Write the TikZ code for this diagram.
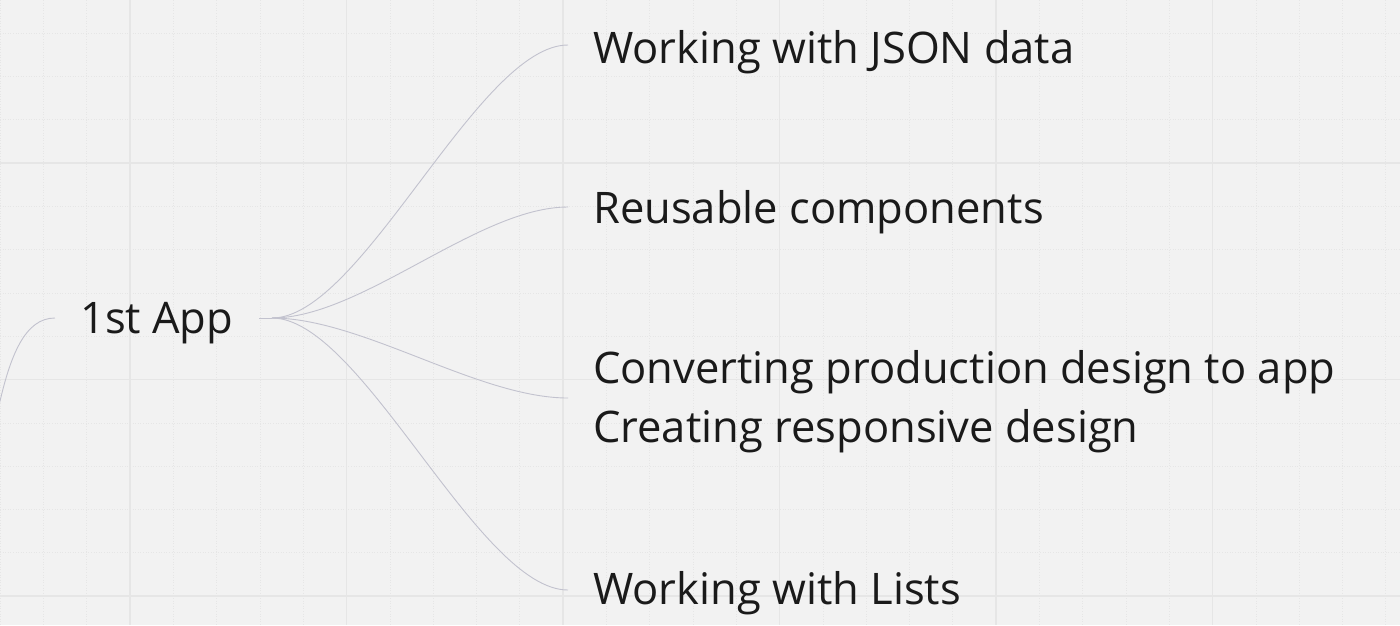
\documentclass[tikz,border=0pt]{standalone}
\usepackage{fontspec}
\setmainfont{Open Sans}
\definecolor{bg}{HTML}{F2F2F2}
\definecolor{gridmajor}{HTML}{E6E6E6}
\definecolor{gridminor}{HTML}{E6E6E6}
\definecolor{conn}{HTML}{C2C2CE}
\definecolor{ink}{HTML}{1A1A1A}
\tikzset{
  label/.style={anchor=base west, inner sep=0pt, text=ink, font=\fontsize{43.5}{59}\selectfont, align=left},
  link/.style={draw=conn, line width=0.9pt},
  majorline/.style={draw=gridmajor, line width=1.8pt},
  minorline/.style={draw=gridminor, line width=0.6pt, dotted},
}
\begin{document}
\begin{tikzpicture}[x=1pt,y=-1pt]
\useasboundingbox (0,0) rectangle (1400,625);
\fill[bg] (0,0) rectangle (1400,625);
\begin{scope}
\clip (0,0) rectangle (1400,625);
% minor grid
\foreach \i in {-3,...,29} {
  \draw[minorline] ({130+43.3*\i},0) -- ({130+43.3*\i},625);
}
\foreach \j in {-4,...,10} {
  \draw[minorline] (0,{163+43.3*\j}) -- (1400,{163+43.3*\j});
}
% major grid
\foreach \i in {0,...,5} {
  \draw[majorline] ({130+216.5*\i},0) -- ({130+216.5*\i},625);
}
\foreach \j in {0,1,2} {
  \draw[majorline] (0,{163+216.5*\j}) -- (1400,{163+216.5*\j});
}
% nodes
\node[label] (root) at (80,333) {1st App};
\node[label] (json) at (593,63) {Working with JSON data};
\node[label] (reuse) at (593,223) {Reusable components};
\node[label] (conv) at (593,442) {Converting production design to app\\Creating responsive design};
\node[label] (lists) at (593,604) {Working with Lists};
% connector points
\coordinate (pin) at (-2,410);
\coordinate (rin) at (55,318);
\coordinate (rout) at (259,318);
\coordinate (hub) at (272,318);
\coordinate (jin) at (568,45);
\coordinate (rein) at (568,207);
\coordinate (cin) at (568,398);
\coordinate (lin) at (568,590);
% connectors
\draw[link] (pin) .. controls (10,355) and (25,318) .. (rin);
\draw[link] (rout) -- (hub);
\draw[link] (hub) .. controls (362,318) and (478,45) .. (jin);
\draw[link] (hub) .. controls (362,318) and (478,207) .. (rein);
\draw[link] (hub) .. controls (362,318) and (478,398) .. (cin);
\draw[link] (hub) .. controls (362,318) and (478,590) .. (lin);
\end{scope}
\end{tikzpicture}
\end{document}
